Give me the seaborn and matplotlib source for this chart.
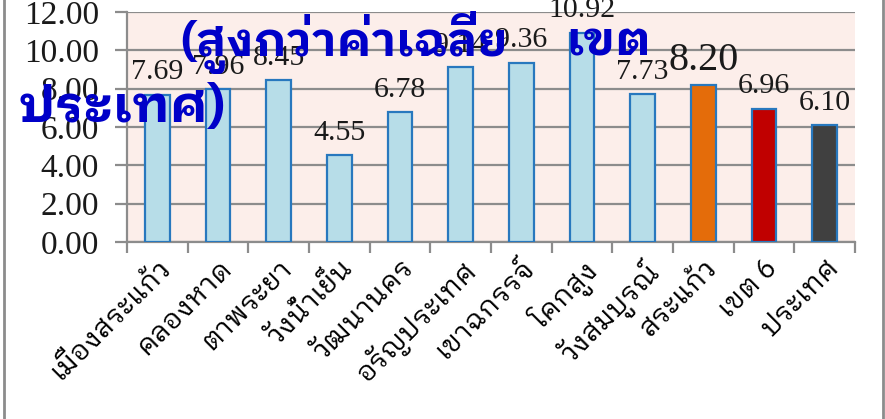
import matplotlib
matplotlib.use("Agg")
import matplotlib.pyplot as plt
from matplotlib.lines import Line2D
from matplotlib.ticker import FixedLocator
import seaborn as sns
import pandas as pd

# Districts of Sa Kaeo province plus province / region / country averages
districts = ["เมืองสระแก้ว", "คลองหาด", "ตาพระยา", "วังน้ำเย็น", "วัฒนานคร",
             "อรัญประเทศ", "เขาฉกรรจ์", "โคกสูง", "วังสมบูรณ์", "สระแก้ว",
             "เขต 6", "ประเทศ"]
scores = [7.69, 7.96, 8.45, 4.55, 6.78, 9.14, 9.36, 10.92, 7.73, 8.20, 6.96, 6.10]
bar_colors = ["#B7DDE8"] * 9 + ["#E46C0A", "#C00000", "#404040"]
y_ticks = [0, 2, 4, 6, 8, 10, 12]
title_words = ["(สูงกว่าค่าเฉลี่ย", "เขต", "ประเทศ)"]

THAI = ["IBM Plex Sans Thai Looped", "Loma", "DejaVu Sans"]
NUM = "Liberation Serif"

df = pd.DataFrame({"district": districts, "score": scores})

W, H, DPI = 885, 419, 100
fig = plt.figure(figsize=(W / DPI, H / DPI), dpi=DPI)
ax = fig.add_axes([127 / W, 1 - 242 / H, (855 - 127) / W, (242 - 12) / H])

sns.barplot(data=df, x="district", y="score", hue="district",
            palette=bar_colors, legend=False, width=0.41,
            edgecolor="#2878BE", linewidth=1.6, saturation=1, ax=ax, zorder=3)

ax.set_facecolor("#FCEEEA")
ax.set_xlim(-0.5, len(districts) - 0.5)
ax.set_ylim(0, 12)
ax.set_yticks(y_ticks)
ax.set_yticklabels([f"{t:.2f}" for t in y_ticks],
                   fontfamily=NUM, fontsize=24, color="#1a1a1a")
ax.grid(axis="y", color="#8C8C8C", linewidth=1.6, zorder=0)
ax.set_axisbelow(True)
ax.set_xlabel("")
ax.set_ylabel("")

for side in ["top", "right"]:
    ax.spines[side].set_visible(False)
for side in ["left", "bottom"]:
    ax.spines[side].set_color("#8C8C8C")
    ax.spines[side].set_linewidth(1.6)

ax.tick_params(axis="y", length=9, width=1.6, color="#8C8C8C", pad=11)

# category labels at bar centres, tick marks at category boundaries
ax.set_xticks(range(len(districts)))
ax.set_xticklabels(districts, rotation=45, ha="right", rotation_mode="anchor",
                   fontfamily=THAI, fontsize=20, color="black")
ax.tick_params(axis="x", which="major", length=0, pad=9)
ax.xaxis.set_minor_locator(FixedLocator([i - 0.5 for i in range(len(districts) + 1)]))
ax.tick_params(axis="x", which="minor", length=8, width=1.6, color="#8C8C8C")

# value labels above each bar
for i, v in enumerate(scores):
    size = 29 if districts[i] == "สระแก้ว" else 21.5
    ax.annotate(f"{v:.2f}", (i, v), xytext=(0, 11), textcoords="offset points",
                ha="center", va="baseline", fontfamily=NUM,
                fontsize=size, color="#1a1a1a", zorder=5)

# blue annotation written across the top of the chart
title_style = dict(fontfamily=THAI, fontweight="bold", color="#0000C8",
                   ha="left", va="baseline", zorder=10)
fig.text(180 / W, 1 - 56 / H, title_words[0], fontsize=34, **title_style)
fig.text(566 / W, 1 - 56 / H, title_words[1], fontsize=34, **title_style)
fig.text(18 / W, 1 - 122 / H, title_words[2], fontsize=37, **title_style)

# chart frame edges
for x in (4 / W, 883 / W):
    fig.add_artist(Line2D([x, x], [0, 1], transform=fig.transFigure,
                          color="#8C8C8C", linewidth=2))

fig.savefig("out.png", dpi=DPI)
